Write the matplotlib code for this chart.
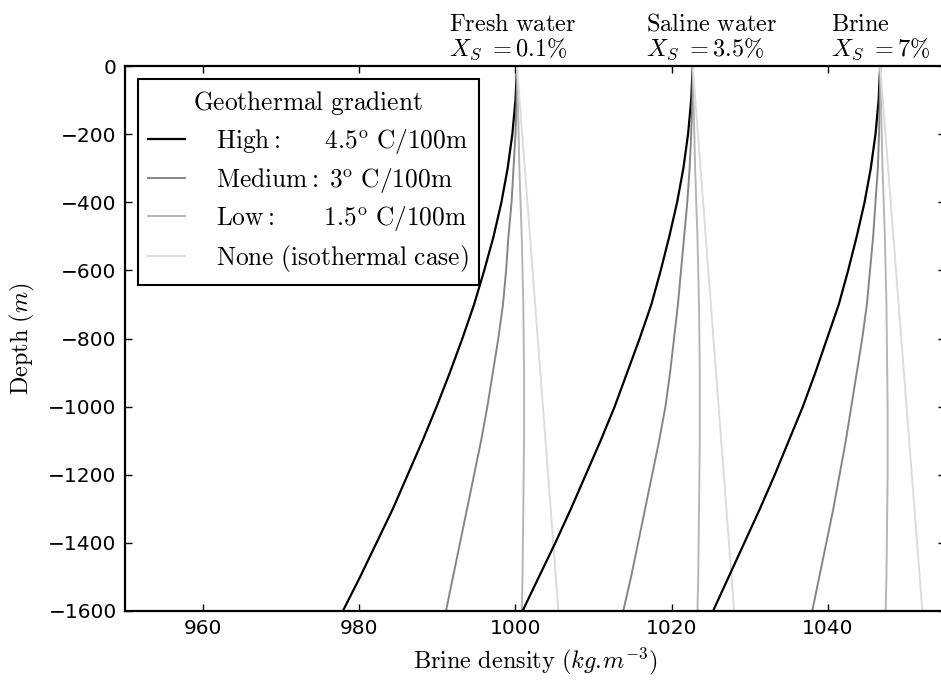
import matplotlib
matplotlib.use("Agg")
import matplotlib.pyplot as plt
import matplotlib.transforms as mtransforms
import numpy as np

# depth levels (m) where the curves were read
depth = [0, -100, -200, -300, -400, -500, -600, -700, -800,
         -900, -1000, -1100, -1200, -1300, -1400, -1500, -1600]
# isothermal curves are straight lines, read at the ends only
depth_none = [0, -1600]

# brine density (kg/m3) for each salinity / geothermal gradient
fresh_high = [1000.2, 1000.0, 999.6, 999.0, 998.2, 997.2, 996.0, 994.7, 993.2,
              991.6, 989.9, 988.1, 986.2, 984.3, 982.2, 980.1, 977.9]
fresh_med = [1000.2, 1000.15, 1000.0, 999.75, 999.5, 999.1, 998.8, 998.4, 997.8,
             997.1, 996.4, 995.6, 994.7, 993.8, 992.9, 992.0, 991.1]
fresh_low = [1000.2, 1000.3, 1000.4, 1000.5, 1000.65, 1000.8, 1000.9, 1001.0, 1001.05,
             1001.1, 1001.1, 1001.1, 1001.05, 1001.0, 1000.95, 1000.9, 1000.8]
fresh_none = [1000.2, 1005.5]

saline_high = [1022.7, 1022.5, 1022.1, 1021.5, 1020.7, 1019.7, 1018.6, 1017.4, 1015.9,
               1014.3, 1012.7, 1010.9, 1009.0, 1007.1, 1005.1, 1003.0, 1000.9]
saline_med = [1022.7, 1022.65, 1022.5, 1022.3, 1022.0, 1021.6, 1021.2, 1020.8, 1020.3,
              1019.8, 1019.2, 1018.4, 1017.5, 1016.6, 1015.7, 1014.8, 1013.8]
saline_low = [1022.7, 1022.8, 1022.9, 1023.0, 1023.15, 1023.3, 1023.4, 1023.5, 1023.55,
              1023.6, 1023.6, 1023.6, 1023.55, 1023.5, 1023.45, 1023.4, 1023.3]
saline_none = [1022.7, 1028.0]

brine_high = [1046.7, 1046.5, 1046.1, 1045.5, 1044.7, 1043.7, 1042.6, 1041.4, 1039.9,
              1038.4, 1036.8, 1035.0, 1033.2, 1031.3, 1029.3, 1027.3, 1025.3]
brine_med = [1046.7, 1046.65, 1046.55, 1046.4, 1046.1, 1045.8, 1045.4, 1045.0, 1044.4,
             1043.7, 1043.0, 1042.3, 1041.5, 1040.7, 1039.8, 1038.9, 1038.0]
brine_low = [1046.7, 1046.8, 1046.9, 1047.0, 1047.15, 1047.3, 1047.4, 1047.5, 1047.55,
             1047.6, 1047.65, 1047.65, 1047.65, 1047.6, 1047.55, 1047.5, 1047.4]
brine_none = [1046.7, 1052.1]

groups = {
    "fresh": [fresh_high, fresh_med, fresh_low, fresh_none],
    "saline": [saline_high, saline_med, saline_low, saline_none],
    "brine": [brine_high, brine_med, brine_low, brine_none],
}

group_titles = ["Fresh water", "Saline water", "Brine"]
group_xs = ["0.1", "3.5", "7"]
group_text_x = [991.5, 1016.7, 1040.4]

gradient_labels = [
    r"$\mathrm{High}:\quad\enspace\;4.5^{\mathrm{o}}\ \mathrm{C/100m}$",
    r"$\mathrm{Medium}:\;3^{\mathrm{o}}\ \mathrm{C/100m}$",
    r"$\mathrm{Low}:\quad\enspace\:\;1.5^{\mathrm{o}}\ \mathrm{C/100m}$",
    r"$\mathrm{None\ (isothermal\ case)}$",
]
colors = ["#000000", "#858585", "#b5b5b5", "#dcdcdc"]
widths = [1.6, 1.4, 1.4, 1.4]

plt.rcParams["mathtext.fontset"] = "cm"
plt.rcParams["font.family"] = "DejaVu Sans"

fig = plt.figure(figsize=(9.41, 6.80), dpi=100)
ax = fig.add_axes([125 / 941, 1 - 611 / 680, 820 / 941, 545 / 680])

for key in groups:
    curves = groups[key]
    for i in range(len(curves)):
        d = depth_none if i == 3 else depth
        if key == "fresh":
            ax.plot(curves[i], d, color=colors[i], lw=widths[i], label=gradient_labels[i])
        else:
            ax.plot(curves[i], d, color=colors[i], lw=widths[i])

ax.set_xlim(950, 1055)
ax.set_ylim(-1600, 0)
ax.set_xticks([960, 980, 1000, 1020, 1040])
ax.set_yticks(np.arange(-1600, 1, 200))
ax.tick_params(direction="in", top=True, right=True, length=5, width=1, labelsize=14.5, pad=6)
for s in ax.spines.values():
    s.set_linewidth(1.6)

ax.set_xlabel(r"$\mathrm{Brine\ density}\ (kg.\!m^{-3})$", fontsize=17.5, labelpad=5)
ax.set_ylabel(r"$\mathrm{Depth}\ (m)$", fontsize=17.5, labelpad=8)

trans = mtransforms.blended_transform_factory(ax.transData, ax.transAxes)
for i in range(len(group_titles)):
    txt = r"$\mathrm{" + group_titles[i].replace(" ", r"\ ") + "}$\n" + r"$X_S\ {=}" + group_xs[i] + r"\%$"
    ax.text(group_text_x[i], 1.007, txt, transform=trans, ha="left", va="bottom",
            fontsize=17.5, linespacing=1.05)

leg = ax.legend(loc="upper left", title=r"$\mathrm{Geothermal\ gradient}$", fontsize=18.3,
                title_fontsize=18.3, fancybox=False, framealpha=1, edgecolor="black",
                borderaxespad=0.5, handlelength=1.45, handletextpad=1.2, labelspacing=0.38,
                borderpad=0.42)
leg.get_frame().set_linewidth(1.5)

fig.savefig("out.png", dpi=100)
